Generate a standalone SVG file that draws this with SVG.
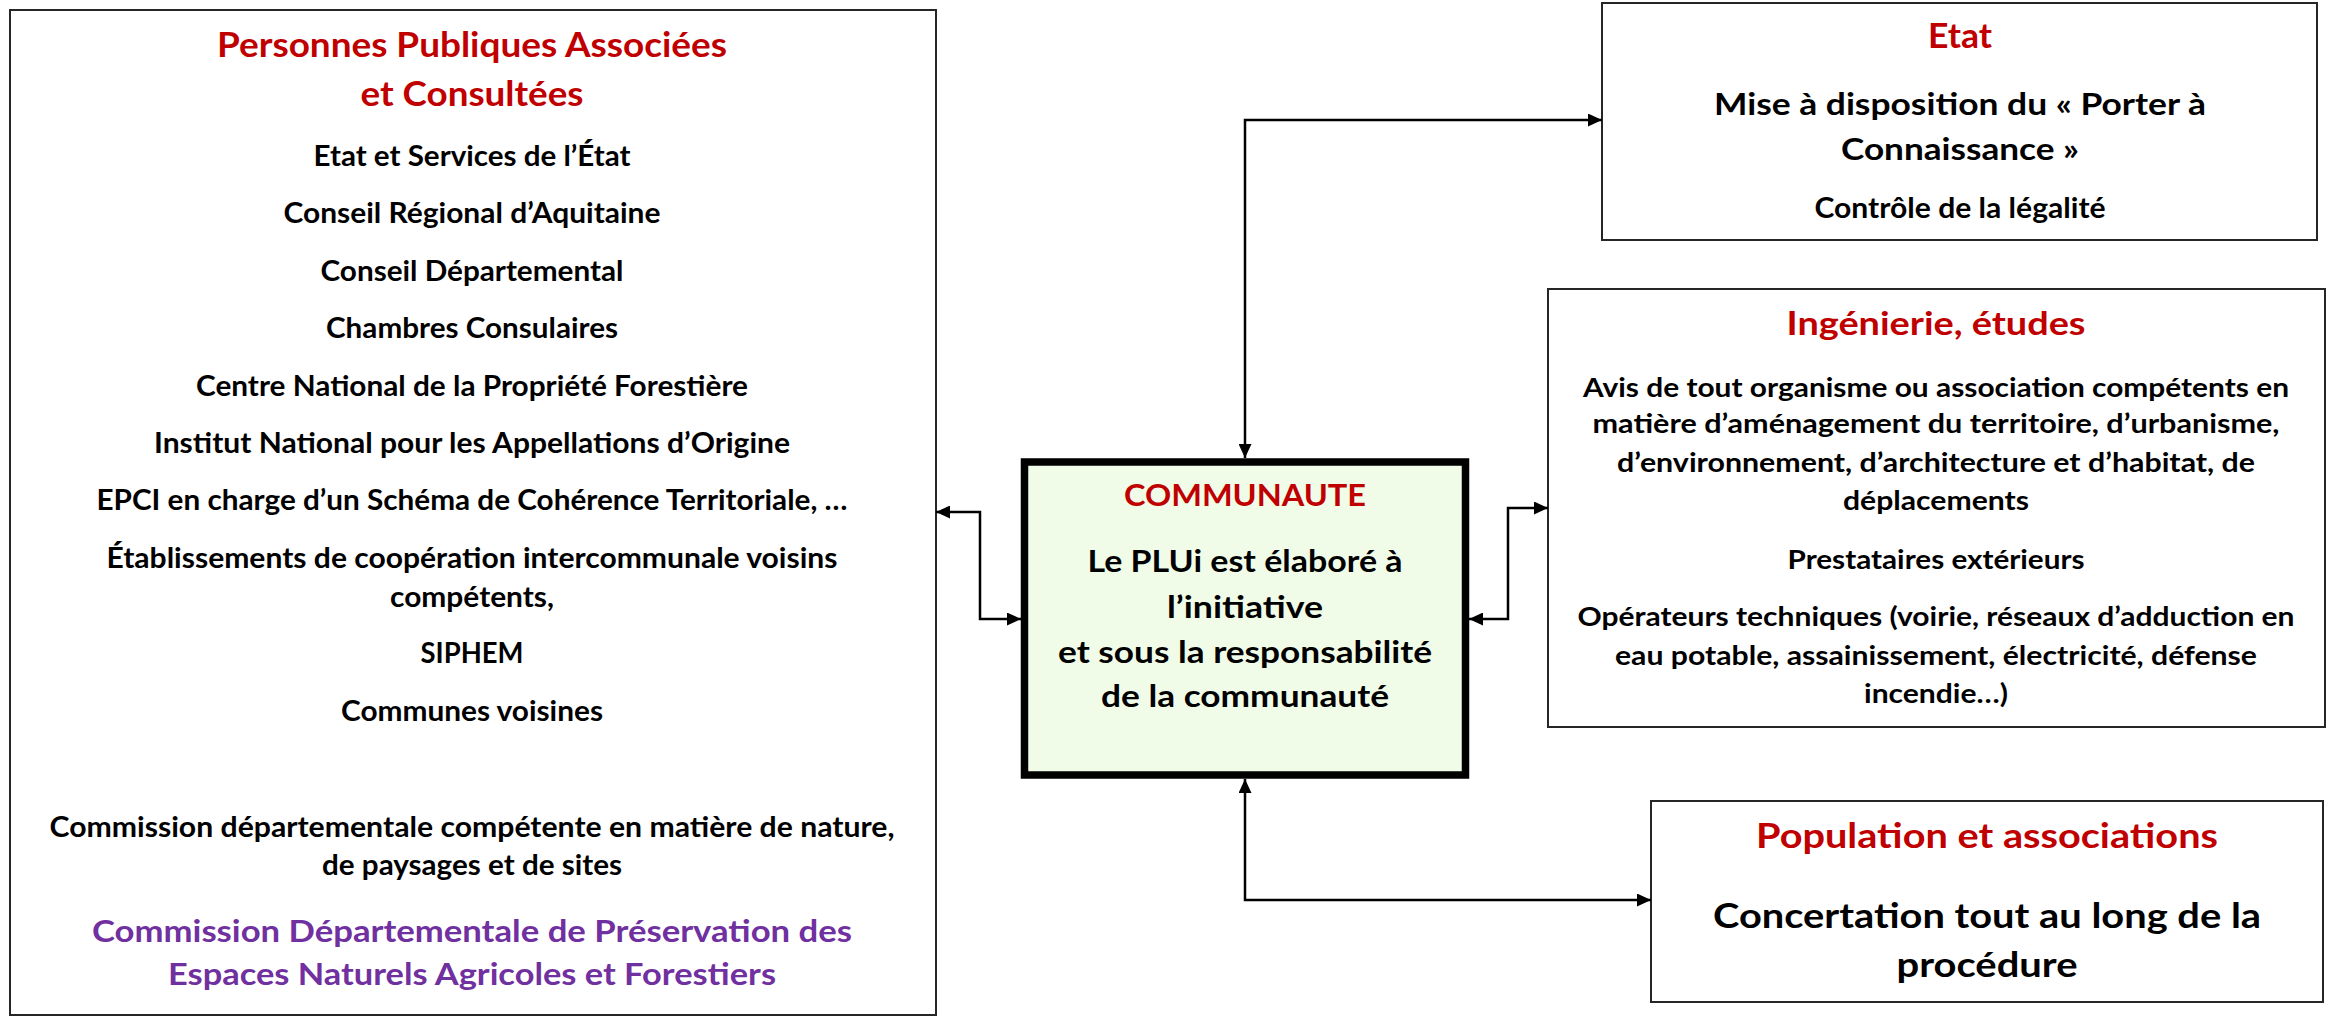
<svg xmlns="http://www.w3.org/2000/svg" width="2333" height="1017" viewBox="0 0 2333 1017">
<style>
.box{fill:#fff;stroke:#262626;stroke-width:2}
.main{fill:#F0FCE7;stroke:#000;stroke-width:7.5}
.t{font-family:Lato,"Liberation Sans",sans-serif;font-weight:700;text-anchor:middle;fill:#000}
.red{fill:#C00000}
.pur{fill:#7030A0}
.conn{fill:none;stroke:#000;stroke-width:2.5;marker-start:url(#ah);marker-end:url(#ah)}
</style>
<defs>
<marker id="ah" markerUnits="userSpaceOnUse" markerWidth="14" markerHeight="13" refX="14" refY="6.5" orient="auto-start-reverse" viewBox="0 0 14 13">
<path d="M0,0 L14,6.5 L0,13 z" fill="#000"/>
</marker>
</defs>
<rect width="2333" height="1017" fill="#fff"/>
<g id="ppa">
<rect class="box" x="10" y="10" width="926" height="1005"/>
<text class="t red" x="472" y="57" font-size="34" textLength="510" lengthAdjust="spacingAndGlyphs">Personnes Publiques Associées</text>
<text class="t red" x="472" y="106" font-size="34" textLength="223" lengthAdjust="spacingAndGlyphs">et Consultées</text>
<text class="t" font-size="28" x="472" y="166" textLength="317" lengthAdjust="spacingAndGlyphs">Etat et Services de l’État</text>
<text class="t" font-size="28" x="472" y="223" textLength="377" lengthAdjust="spacingAndGlyphs">Conseil Régional d’Aquitaine</text>
<text class="t" font-size="28" x="472" y="281" textLength="303" lengthAdjust="spacingAndGlyphs">Conseil Départemental</text>
<text class="t" font-size="28" x="472" y="338" textLength="292" lengthAdjust="spacingAndGlyphs">Chambres Consulaires</text>
<text class="t" font-size="28" x="472" y="396" textLength="552" lengthAdjust="spacingAndGlyphs">Centre National de la Propriété Forestière</text>
<text class="t" font-size="28" x="472" y="453" textLength="636" lengthAdjust="spacingAndGlyphs">Institut National pour les Appellations d’Origine</text>
<text class="t" font-size="28" x="472" y="510" textLength="751" lengthAdjust="spacingAndGlyphs">EPCI en charge d’un Schéma de Cohérence Territoriale, …</text>
<text class="t" font-size="28" x="472" y="568" textLength="731" lengthAdjust="spacingAndGlyphs">Établissements de coopération intercommunale voisins</text>
<text class="t" font-size="28" x="472" y="607" textLength="164" lengthAdjust="spacingAndGlyphs">compétents,</text>
<text class="t" font-size="28" x="472" y="663" textLength="103" lengthAdjust="spacingAndGlyphs">SIPHEM</text>
<text class="t" font-size="28" x="472" y="721" textLength="262" lengthAdjust="spacingAndGlyphs">Communes voisines</text>
<text class="t" font-size="28" x="472" y="837" textLength="845" lengthAdjust="spacingAndGlyphs">Commission départementale compétente en matière de nature,</text>
<text class="t" font-size="28" x="472" y="875" textLength="300" lengthAdjust="spacingAndGlyphs">de paysages et de sites</text>
<text class="t pur" font-size="30" x="472" y="942" textLength="760" lengthAdjust="spacingAndGlyphs">Commission Départementale de Préservation des</text>
<text class="t pur" font-size="30" x="472" y="985" textLength="608" lengthAdjust="spacingAndGlyphs">Espaces Naturels Agricoles et Forestiers</text>
</g>
<g id="etat">
<rect class="box" x="1602" y="3" width="715" height="237"/>
<text class="t red" font-size="34" x="1960" y="48" textLength="64" lengthAdjust="spacingAndGlyphs">Etat</text>
<text class="t" font-size="30" x="1960" y="115" textLength="492" lengthAdjust="spacingAndGlyphs">Mise à disposition du « Porter à</text>
<text class="t" font-size="30" x="1960" y="160" textLength="238" lengthAdjust="spacingAndGlyphs">Connaissance »</text>
<text class="t" font-size="28" x="1960" y="218" textLength="291" lengthAdjust="spacingAndGlyphs">Contrôle de la légalité</text>
</g>
<g id="ingenierie">
<rect class="box" x="1548" y="289" width="777" height="438"/>
<text class="t red" font-size="32" x="1936" y="335" textLength="299" lengthAdjust="spacingAndGlyphs">Ingénierie, études</text>
<text class="t" font-size="27" x="1936" y="397" textLength="706" lengthAdjust="spacingAndGlyphs">Avis de tout organisme ou association compétents en</text>
<text class="t" font-size="27" x="1936" y="433" textLength="687" lengthAdjust="spacingAndGlyphs">matière d’aménagement du territoire, d’urbanisme,</text>
<text class="t" font-size="27" x="1936" y="472" textLength="638" lengthAdjust="spacingAndGlyphs">d’environnement, d’architecture et d’habitat, de</text>
<text class="t" font-size="27" x="1936" y="510" textLength="186" lengthAdjust="spacingAndGlyphs">déplacements</text>
<text class="t" font-size="27" x="1936" y="569" textLength="297" lengthAdjust="spacingAndGlyphs">Prestataires extérieurs</text>
<text class="t" font-size="27" x="1936" y="626" textLength="717" lengthAdjust="spacingAndGlyphs">Opérateurs techniques (voirie, réseaux d’adduction en</text>
<text class="t" font-size="27" x="1936" y="665" textLength="642" lengthAdjust="spacingAndGlyphs">eau potable, assainissement, électricité, défense</text>
<text class="t" font-size="27" x="1936" y="703" textLength="144" lengthAdjust="spacingAndGlyphs">incendie…)</text>
</g>
<g id="population">
<rect class="box" x="1651" y="801" width="672" height="201"/>
<text class="t red" font-size="35" x="1987" y="848" textLength="462" lengthAdjust="spacingAndGlyphs">Population et associations</text>
<text class="t" font-size="35" x="1987" y="928" textLength="548" lengthAdjust="spacingAndGlyphs">Concertation tout au long de la</text>
<text class="t" font-size="35" x="1987" y="977" textLength="181" lengthAdjust="spacingAndGlyphs">procédure</text>
</g>
<g id="communaute">
<rect class="main" x="1024.5" y="462" width="441" height="313"/>
<text class="t red" font-size="31" x="1245" y="506" textLength="242" lengthAdjust="spacingAndGlyphs">COMMUNAUTE</text>
<text class="t" font-size="29.5" x="1245" y="572" textLength="315" lengthAdjust="spacingAndGlyphs">Le PLUi est élaboré à</text>
<text class="t" font-size="29.5" x="1245" y="618" textLength="156" lengthAdjust="spacingAndGlyphs">l’initiative</text>
<text class="t" font-size="29.5" x="1245" y="663" textLength="374" lengthAdjust="spacingAndGlyphs">et sous la responsabilité</text>
<text class="t" font-size="29.5" x="1245" y="707" textLength="288" lengthAdjust="spacingAndGlyphs">de la communauté</text>
</g>
<g id="connectors">
<path class="conn" d="M1245,458 V120 H1602"/>
<path class="conn" d="M936,512 H980 V619 H1021"/>
<path class="conn" d="M1469,619 H1508 V508 H1548"/>
<path class="conn" d="M1245,779 V900 H1651"/>
</g>
</svg>
